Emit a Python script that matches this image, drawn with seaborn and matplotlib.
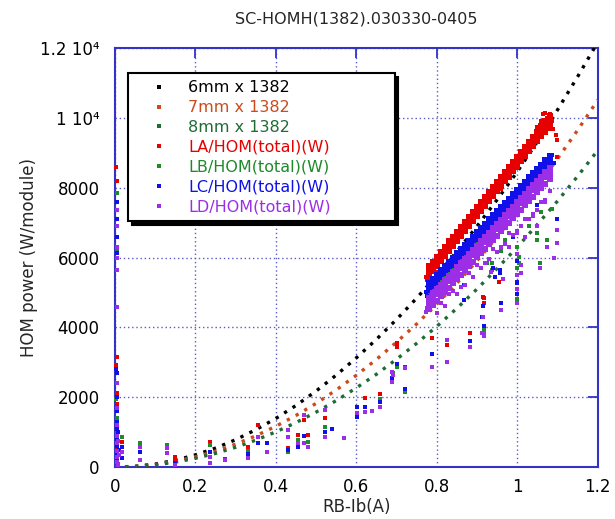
import matplotlib
matplotlib.use("Agg")
import matplotlib.pyplot as plt
from matplotlib.lines import Line2D
from matplotlib.ticker import FixedLocator, FixedFormatter
import pandas as pd
import seaborn as sns

# ---------------- data ----------------
TITLE = "SC-HOMH(1382).030330-0405"
X_LABEL = "RB-Ib(A)"
Y_LABEL = "HOM power (W/module)"

X_TICKS = [0, 0.2, 0.4, 0.6, 0.8, 1.0, 1.2]
X_TICK_LABELS = ["0", "0.2", "0.4", "0.6", "0.8", "1", "1.2"]
Y_TICKS = [0, 2000, 4000, 6000, 8000, 10000, 12000]
Y_TICK_LABELS = ["0", "2000", "4000", "6000", "8000", "1 10\u2074", "1.2 10\u2074"]

# fitted loss curves (dotted)
CURVE_X = [0.00, 0.05, 0.10, 0.15, 0.20, 0.25, 0.30, 0.35, 0.40, 0.45, 0.50, 0.55,
           0.60, 0.65, 0.70, 0.75, 0.80, 0.85, 0.90, 0.95, 1.00, 1.05, 1.10, 1.15, 1.20]
CURVE_6MM = [0, 22, 87, 196, 350, 545, 785, 1070, 1395, 1765, 2180, 2635,
             3130, 3660, 4230, 4840, 5490, 6180, 6900, 7660, 8460, 9320, 10230, 11180, 12170]
CURVE_7MM = [0, 18, 73, 165, 292, 457, 657, 895, 1170, 1480, 1825, 2210,
             2630, 3085, 3580, 4100, 4670, 5270, 5910, 6590, 7300, 8050, 8830, 9650, 10510]
CURVE_8MM = [0, 16, 63, 142, 252, 394, 567, 772, 1010, 1275, 1575, 1905,
             2270, 2660, 3090, 3545, 4030, 4550, 5100, 5690, 6300, 6950, 7620, 8330, 9070]

# dense measured bands (current 0.78 .. 1.08 A)
BAND_X = [0.78, 0.79, 0.80, 0.81, 0.82, 0.83, 0.84, 0.85, 0.86, 0.87, 0.88, 0.89, 0.90, 0.91, 0.92, 0.93,
          0.94, 0.95, 0.96, 0.97, 0.98, 0.99, 1.00, 1.01, 1.02, 1.03, 1.04, 1.05, 1.06, 1.07, 1.08]

LA_HI = [5750, 5870, 6030, 6160, 6300, 6460, 6590, 6740, 6870, 7030, 7160, 7300, 7460, 7590, 7740, 7870,
         8030, 8160, 8310, 8450, 8590, 8740, 8880, 9030, 9160, 9310, 9460, 9600, 9760, 9900, 10050]
LA_MID = [5605, 5750, 5890, 6035, 6180, 6320, 6465, 6605, 6750, 6890, 7035, 7180, 7320, 7465, 7605, 7750,
          7895, 8035, 8180, 8320, 8465, 8610, 8750, 8895, 9035, 9180, 9325, 9465, 9610, 9750, 9895]
LA_LO = [5470, 5620, 5750, 5910, 6040, 6190, 6320, 6480, 6610, 6770, 6900, 7050, 7180, 7340, 7470, 7620,
         7750, 7910, 8040, 8200, 8320, 8480, 8610, 8770, 8900, 9050, 9180, 9340, 9470, 9600, 9700]

LB_MID = [4900, 5020, 5145, 5265, 5390, 5510, 5630, 5755, 5875, 6000, 6120, 6240, 6365, 6485, 6610, 6730,
          6850, 6975, 7095, 7220, 7340, 7460, 7585, 7705, 7830, 7950, 8070, 8195, 8315, 8440, 8560]

LC_HI = [5270, 5390, 5510, 5630, 5750, 5880, 6000, 6120, 6240, 6360, 6480, 6600, 6720, 6840, 6960, 7090,
         7210, 7330, 7450, 7570, 7690, 7810, 7930, 8050, 8170, 8300, 8420, 8540, 8660, 8780, 8900]
LC_MID = [5170, 5290, 5410, 5530, 5650, 5775, 5895, 6015, 6140, 6260, 6380, 6500, 6620, 6745, 6865, 6985,
          7105, 7225, 7350, 7470, 7590, 7710, 7830, 7955, 8075, 8195, 8315, 8435, 8560, 8680, 8800]
LC_LO = [5070, 5190, 5310, 5430, 5550, 5675, 5795, 5915, 6040, 6160, 6280, 6400, 6520, 6645, 6765, 6885,
         7005, 7125, 7250, 7370, 7490, 7610, 7730, 7855, 7975, 8095, 8215, 8335, 8460, 8580, 8700]

LD_HI = [4850, 4975, 5100, 5220, 5345, 5470, 5595, 5720, 5840, 5965, 6090, 6215, 6340, 6460, 6585, 6710,
         6835, 6960, 7080, 7205, 7330, 7455, 7580, 7700, 7825, 7950, 8075, 8200, 8320, 8445, 8570]
LD_MID = [4700, 4825, 4950, 5070, 5195, 5320, 5445, 5570, 5690, 5815, 5940, 6065, 6190, 6310, 6435, 6560,
          6685, 6810, 6930, 7055, 7180, 7305, 7430, 7550, 7675, 7800, 7925, 8050, 8170, 8295, 8420]
LD_LO = [4520, 4645, 4770, 4890, 5015, 5140, 5265, 5390, 5510, 5635, 5760, 5885, 6010, 6130, 6255, 6380,
         6505, 6630, 6750, 6875, 7000, 7125, 7250, 7370, 7495, 7620, 7745, 7870, 7990, 8115, 8240]

# scattered points (x [A], y [W])
LA_OUT = [(0.003, 8600), (0.004, 8180), (0.004, 3160), (0.003, 2930), (0.005, 2120), (0.006, 1800),
          (0.004, 1300), (0.005, 900), (0.006, 500), (0.004, 200), (0.018, 720), (0.15, 290), (0.15, 200),
          (0.236, 720), (0.273, 230), (0.33, 570), (0.355, 1200), (0.43, 540), (0.455, 920), (0.48, 920),
          (0.47, 1350), (0.522, 1400), (0.621, 1980), (0.658, 2090), (0.70, 3560), (0.70, 3450), (0.72, 2870),
          (0.787, 3700), (0.825, 3500), (0.882, 3850), (0.914, 4880), (0.917, 4850), (0.917, 4700),
          (0.955, 5300), (1.065, 10100), (1.075, 10000), (1.07, 10150), (1.08, 10120), (1.085, 9900),
          (1.088, 9670), (1.095, 9500), (1.098, 9380), (1.06, 9900), (1.05, 9750), (1.098, 8870),
          (0.775, 5350), (0.772, 5450), (0.785, 5400), (0.80, 5600), (0.96, 7950), (1.0, 8560)]
LB_OUT = [(0.004, 7860), (0.005, 6230), (0.003, 1950), (0.005, 1400), (0.006, 1000), (0.004, 600),
          (0.007, 100), (0.018, 860), (0.062, 690), (0.13, 630), (0.236, 630), (0.33, 470), (0.43, 430),
          (0.455, 780), (0.48, 720), (0.522, 1150), (0.658, 1950), (0.70, 2870), (0.72, 2150), (0.69, 2700),
          (0.917, 3950), (0.998, 4800), (0.925, 5850), (0.937, 5850), (0.937, 5650), (0.999, 6310),
          (0.999, 5700), (1.005, 6030), (1.005, 5850), (1.048, 6700), (1.048, 6510), (1.056, 5850),
          (1.073, 6510), (0.96, 6200), (1.03, 6900), (1.06, 7300), (1.01, 6900), (0.97, 6500), (1.085, 7400)]
LC_OUT = [(0.004, 7600), (0.005, 7100), (0.004, 6600), (0.005, 6140), (0.003, 2800), (0.005, 2700),
          (0.004, 2000), (0.005, 1600), (0.006, 1300), (0.004, 1100), (0.006, 800), (0.005, 600),
          (0.004, 400), (0.006, 250), (0.008, 1000), (0.009, 500), (0.018, 570), (0.018, 260), (0.062, 430),
          (0.15, 120), (0.236, 430), (0.33, 380), (0.355, 690), (0.377, 690), (0.43, 480), (0.455, 570),
          (0.47, 900), (0.522, 1000), (0.54, 1100), (0.601, 1720), (0.601, 1430), (0.621, 1720),
          (0.658, 1850), (0.688, 2560), (0.70, 2950), (0.72, 2250), (0.787, 3250), (0.867, 5220),
          (0.867, 4790), (0.882, 3600), (0.912, 4300), (0.914, 4600), (0.917, 4050), (0.96, 4700),
          (0.998, 5280), (0.998, 4950), (0.999, 5900), (0.999, 5300), (0.999, 4700), (0.94, 5700),
          (0.945, 5450), (0.957, 5650), (0.957, 5570), (0.99, 6600), (1.05, 7500), (1.098, 7090),
          (0.772, 5000), (0.775, 4900), (1.085, 8950), (1.09, 8700)]
LD_OUT = [(0.004, 7370), (0.005, 6890), (0.004, 6310), (0.005, 6000), (0.004, 5650), (0.004, 4590),
          (0.005, 2410), (0.004, 1700), (0.006, 1200), (0.005, 900), (0.004, 700), (0.006, 450),
          (0.005, 300), (0.004, 150), (0.007, 50), (0.008, 750), (0.009, 350), (0.018, 430), (0.062, 570),
          (0.062, 200), (0.13, 545), (0.13, 400), (0.15, 60), (0.236, 290), (0.236, 115), (0.273, 200),
          (0.33, 260), (0.355, 860), (0.377, 430), (0.43, 1060), (0.43, 860), (0.455, 680), (0.48, 570),
          (0.47, 1490), (0.47, 690), (0.522, 1640), (0.522, 860), (0.57, 830), (0.601, 1550), (0.621, 1580),
          (0.64, 1600), (0.658, 1720), (0.688, 2730), (0.688, 2440), (0.72, 2840), (0.69, 2640),
          (0.787, 2870), (0.825, 3640), (0.825, 3000), (0.882, 3440), (0.912, 3850), (0.914, 4300),
          (0.917, 3850), (0.917, 3750), (0.96, 4500), (0.998, 5100), (0.998, 4700), (0.935, 5600),
          (0.965, 5400), (0.999, 6100), (0.999, 5500), (0.999, 5100), (1.01, 5800), (1.01, 5570),
          (1.048, 6890), (1.056, 5710), (1.073, 6300), (0.98, 6300), (1.02, 6600), (1.04, 7200),
          (1.07, 7600), (1.00, 6700), (1.098, 6800), (1.098, 6430), (1.09, 6000),
          (0.80, 4400), (0.82, 4600), (0.85, 4950), (0.87, 5200), (0.89, 5450), (0.91, 5700),
          (0.93, 5950), (0.95, 6150), (0.97, 6400), (0.99, 6650), (1.01, 6900), (1.03, 7100),
          (1.05, 7350), (1.07, 7650), (0.86, 5150), (0.92, 5850), (0.96, 6300), (1.00, 6750), (1.04, 7250),
          (0.81, 4700), (0.83, 4950), (0.84, 5050), (0.88, 5550), (0.90, 5800), (0.94, 6250),
          (0.98, 6700), (1.02, 7100), (1.06, 7600), (1.08, 7900), (0.775, 4550), (0.772, 4450)]

LEGEND_LABELS = ["6mm x 1382", "7mm x 1382", "8mm x 1382",
                 "LA/HOM(total)(W)", "LB/HOM(total)(W)", "LC/HOM(total)(W)", "LD/HOM(total)(W)"]

# ---------------- styling ----------------
C_6MM, C_7MM, C_8MM = "#000000", "#cc4a1c", "#1f6b35"
C_LA, C_LB, C_LC, C_LD = "#e60000", "#1f8a2a", "#1010e8", "#9b2ee6"
AX_BLUE = "#3333c8"
GRID_C = "#5a5ac8"

sns.set_style("white")
plt.rcParams["font.family"] = ["DejaVu Sans"]

fig = plt.figure(figsize=(6.15, 5.19), dpi=100)
ax = fig.add_axes([0.187, 0.100, 0.785, 0.8075])

# fitted curves
for ys, c in [(CURVE_6MM, C_6MM), (CURVE_7MM, C_7MM), (CURVE_8MM, C_8MM)]:
    sns.lineplot(x=CURVE_X, y=ys, ax=ax, color=c, linestyle=(0, (1, 2.0)),
                 linewidth=2.4, dash_capstyle="butt", zorder=3, sort=False)

def series_frame(rows, out):
    xs, ys = [], []
    for r in rows:
        xs += BAND_X
        ys += r
    xs += [p[0] for p in out]
    ys += [p[1] for p in out]
    return pd.DataFrame({"x": xs, "y": ys})

series = [
    ([LA_LO, LA_MID, LA_HI], LA_OUT, C_LA),
    ([LB_MID], LB_OUT, C_LB),
    ([LC_LO, LC_MID, LC_HI], LC_OUT, C_LC),
    ([LD_LO, LD_MID, LD_HI], LD_OUT, C_LD),
]
for rows, out, c in series:
    band = series_frame(rows, [])
    pts = series_frame([], out)
    sns.scatterplot(data=band, x="x", y="y", ax=ax, color=c, marker="s", s=24,
                    linewidth=0, zorder=4, legend=False)
    sns.scatterplot(data=pts, x="x", y="y", ax=ax, color=c, marker="s", s=8,
                    linewidth=0, zorder=4, legend=False, clip_on=False)

ax.set_xlim(0, 1.2)
ax.set_ylim(0, 12000)
ax.xaxis.set_major_locator(FixedLocator(X_TICKS))
ax.xaxis.set_major_formatter(FixedFormatter(X_TICK_LABELS))
ax.yaxis.set_major_locator(FixedLocator(Y_TICKS))
ax.yaxis.set_major_formatter(FixedFormatter(Y_TICK_LABELS))

ax.grid(True, linestyle=(0, (1, 2)), color=GRID_C, linewidth=1.0, zorder=1)
ax.set_axisbelow(True)
for sp in ax.spines.values():
    sp.set_visible(True)
    sp.set_color(AX_BLUE)
    sp.set_linewidth(1.5)
ax.tick_params(axis="both", direction="in", length=7, width=1.3, color=AX_BLUE,
               top=True, right=True, labelsize=12, labelcolor="black")
ax.tick_params(axis="x", pad=8)
ax.tick_params(axis="y", pad=11)

ax.set_title(TITLE, fontsize=11.5, pad=18)
ax.set_xlabel(X_LABEL, fontsize=12, labelpad=1)
ax.set_ylabel(Y_LABEL, fontsize=12)
ax.yaxis.set_label_coords(-0.16, 0.5)

handles = [Line2D([], [], linestyle="none", marker="s", markersize=2.3, color=c, markeredgewidth=0)
           for c in [C_6MM, C_7MM, C_8MM, C_LA, C_LB, C_LC, C_LD]]
leg = ax.legend(handles, LEGEND_LABELS, loc="upper left",
                bbox_to_anchor=(0.027, 0.3, 0.553, 0.64), mode="expand", borderaxespad=0,
                fontsize=11.5, handlelength=3.0, handletextpad=0.3, labelspacing=0.3,
                borderpad=0.45, frameon=True, fancybox=False, framealpha=1,
                edgecolor="black", facecolor="white",
                shadow={"ox": 2.5, "oy": -2.5, "color": "black", "alpha": 1})
leg.get_frame().set_linewidth(1.5)
leg.set_zorder(10)
for t, c in zip(leg.get_texts(), [C_6MM, C_7MM, C_8MM, C_LA, C_LB, C_LC, C_LD]):
    t.set_color(c)

fig.savefig("out.png", dpi=100)
